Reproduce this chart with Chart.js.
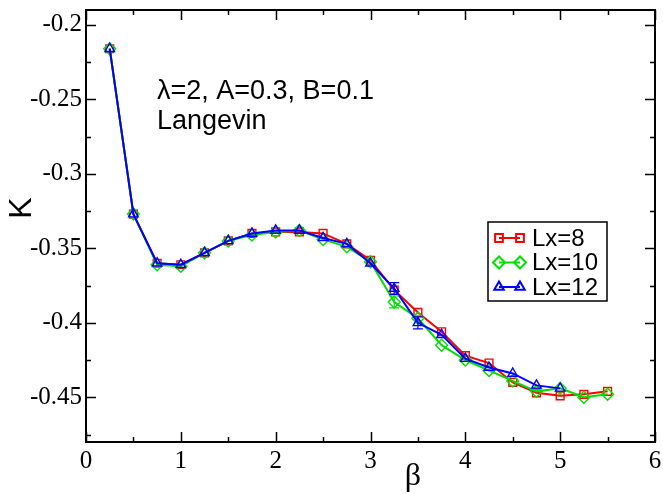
<!DOCTYPE html>
<html>
<head>
<meta charset="utf-8">
<script src="https://cdn.jsdelivr.net/npm/chart.js@4"></script>
<style>
  html, body { margin: 0; padding: 0; background: #fff; }
  #wrap { width: 663px; height: 494px; }
</style>
</head>
<body>
<div id="wrap"><canvas id="chart" width="663" height="494"></canvas></div>
<script>
// beta values
const beta = [0.25, 0.5, 0.75, 1.0, 1.25, 1.5, 1.75, 2.0, 2.25, 2.5, 2.75, 3.0, 3.25, 3.5, 3.75, 4.0, 4.25, 4.5, 4.75, 5.0, 5.25, 5.5];

// K for each system size
const kLx8  = [-0.216, -0.327, -0.360, -0.361, -0.353, -0.345, -0.340, -0.339, -0.339, -0.340, -0.347, -0.358, -0.378, -0.393, -0.406, -0.422, -0.427, -0.440, -0.447, -0.449, -0.448, -0.446];
const kLx10 = [-0.216, -0.327, -0.361, -0.362, -0.353, -0.345, -0.341, -0.339, -0.338, -0.344, -0.349, -0.359, -0.386, -0.397, -0.415, -0.425, -0.432, -0.439, -0.446, -0.444, -0.450, -0.448];
const kLx12 = [-0.216, -0.327, -0.360, -0.361, -0.353, -0.345, -0.340, -0.338, -0.338, -0.343, -0.347, -0.360, -0.377, -0.400, -0.408, -0.424, -0.430, -0.434, -0.442, -0.444];

// error bars (mostly tiny)
const errLx8  = [0.001, 0.001, 0.001, 0.001, 0.001, 0.001, 0.001, 0.001, 0.001, 0.001, 0.001, 0.002, 0.003, 0.002, 0.002, 0.002, 0.002, 0.002, 0.002, 0.002, 0.002, 0.002];
const errLx10 = [0.001, 0.001, 0.001, 0.001, 0.001, 0.001, 0.001, 0.001, 0.001, 0.001, 0.001, 0.002, 0.004, 0.002, 0.002, 0.002, 0.002, 0.002, 0.002, 0.002, 0.002, 0.002];
const errLx12 = [0.001, 0.001, 0.001, 0.001, 0.001, 0.001, 0.001, 0.001, 0.001, 0.001, 0.001, 0.002, 0.004, 0.004, 0.002, 0.002, 0.002, 0.002, 0.002, 0.002];

const xTicks = [0, 1, 2, 3, 4, 5, 6];
const yTicks = [-0.2, -0.25, -0.3, -0.35, -0.4, -0.45];

const serif = "'Liberation Serif', 'DejaVu Serif', serif";
const sans = "'Liberation Sans', Arial, sans-serif";

function toPoints(ys) {
    return ys.map((y, i) => ({ x: beta[i], y: y }));
}

function makeSet(label, ys, errs, color, style, order) {
    return {
        label: label,
        data: toPoints(ys),
        errors: errs,
        borderColor: color,
        backgroundColor: 'rgba(0,0,0,0)',
        borderWidth: 2,
        pointStyle: style,
        pointRadius: style === 'rectRot' ? 6 : 5.5,
        pointBorderWidth: 1.4,
        pointBorderColor: color,
        pointBackgroundColor: 'rgba(0,0,0,0)',
        tension: 0,
        order: order
    };
}

// error bars, inward ticks, labels, legend box
const decorations = {
    id: 'decorations',
    afterDatasetsDraw(chart) {
        const ctx = chart.ctx;
        const xs = chart.scales.x, ys = chart.scales.y;
        chart.data.datasets.forEach(ds => {
            ctx.save();
            ctx.strokeStyle = ds.borderColor;
            ctx.lineWidth = 1.2;
            ds.data.forEach((p, i) => {
                const e = ds.errors[i];
                const px = xs.getPixelForValue(p.x);
                const y1 = ys.getPixelForValue(p.y + e);
                const y2 = ys.getPixelForValue(p.y - e);
                if (y2 - y1 < 11) return;
                ctx.beginPath();
                ctx.moveTo(px, y1); ctx.lineTo(px, y2);
                ctx.moveTo(px - 5, y1); ctx.lineTo(px + 5, y1);
                ctx.moveTo(px - 5, y2); ctx.lineTo(px + 5, y2);
                ctx.stroke();
            });
            ctx.restore();
        });
    },
    afterDraw(chart) {
        const ctx = chart.ctx;
        const a = chart.chartArea;
        const xs = chart.scales.x, ys = chart.scales.y;
        ctx.save();
        ctx.strokeStyle = '#000';
        ctx.lineWidth = 2;
        ctx.strokeRect(a.left, a.top, a.right - a.left, a.bottom - a.top);

        ctx.lineWidth = 1.5;
        ctx.beginPath();
        for (let v = 0; v <= 6.001; v += 0.5) {
            const px = Math.round(xs.getPixelForValue(v)) + 0.5;
            const len = Math.abs(v - Math.round(v)) < 1e-6 ? 10 : 5;
            ctx.moveTo(px, a.bottom); ctx.lineTo(px, a.bottom - len);
            ctx.moveTo(px, a.top); ctx.lineTo(px, a.top + len);
        }
        for (let k = 0; k <= 12; k++) {
            const v = -0.2 - k * 0.025;
            if (v < ys.min) break;
            const py = Math.round(ys.getPixelForValue(v)) + 0.5;
            const len = k % 2 === 0 ? 10 : 5;
            ctx.moveTo(a.left, py); ctx.lineTo(a.left + len, py);
            ctx.moveTo(a.right, py); ctx.lineTo(a.right - len, py);
        }
        ctx.stroke();

        // axis titles
        ctx.fillStyle = '#000';
        ctx.font = '32px ' + sans;
        ctx.textAlign = 'center';
        ctx.textBaseline = 'middle';
        ctx.save();
        ctx.translate(22, 208);
        ctx.rotate(-Math.PI / 2);
        ctx.fillText('K', 0, 0);
        ctx.restore();
        ctx.font = '32px ' + serif;
        ctx.textBaseline = 'alphabetic';
        ctx.fillText('β', 413, 485);

        // annotation
        ctx.textAlign = 'left';
        ctx.font = '27px ' + sans;
        ctx.fillText('λ=2, A=0.3, B=0.1', 157, 99);
        ctx.fillText('Langevin', 157, 129);

        // legend box
        const lx = 488, ly = 222, lw = 119, lh = 79;
        ctx.fillStyle = '#fff';
        ctx.fillRect(lx, ly, lw, lh);
        ctx.strokeStyle = '#000';
        ctx.lineWidth = 1.5;
        ctx.strokeRect(lx, ly, lw, lh);
        chart.data.datasets.forEach((ds, i) => {
            const cy = ly + 16 + i * 24.5;
            ctx.strokeStyle = ds.borderColor;
            ctx.lineWidth = 2;
            ctx.beginPath();
            ctx.moveTo(lx + 11, cy); ctx.lineTo(lx + 32, cy);
            ctx.stroke();
            ctx.fillStyle = 'rgba(0,0,0,0)';
            [lx + 11, lx + 32].forEach(px => {
                Chart.helpers.drawPoint(ctx, {
                    pointStyle: ds.pointStyle,
                    radius: ds.pointRadius,
                    borderWidth: 1.4,
                    rotation: 0
                }, px, cy);
            });
            ctx.fillStyle = '#000';
            ctx.font = '24px ' + sans;
            ctx.textBaseline = 'middle';
            ctx.fillText(ds.label, lx + 44, cy + 1);
        });
        ctx.restore();
    }
};

new Chart(document.getElementById('chart'), {
    type: 'line',
    data: {
        datasets: [
            makeSet('Lx=8', kLx8, errLx8, '#ff0000', 'rect', 2),
            makeSet('Lx=10', kLx10, errLx10, '#00e000', 'rectRot', 1),
            makeSet('Lx=12', kLx12, errLx12, '#0000ff', 'triangle', 0)
        ]
    },
    options: {
        responsive: false,
        animation: false,
        layout: { padding: { left: 0, right: 8, top: 10, bottom: 0 } },
        plugins: {
            legend: { display: false },
            tooltip: { enabled: false }
        },
        scales: {
            x: {
                type: 'linear',
                min: 0,
                max: 6,
                grid: { display: false, drawTicks: false, tickLength: 0 },
                border: { display: false },
                afterFit: s => { s.height = 52; s.paddingLeft = 0; s.paddingRight = 0; },
                afterBuildTicks: s => { s.ticks = xTicks.map(v => ({ value: v })); },
                ticks: {
                    padding: 4,
                    color: '#000',
                    font: { family: serif, size: 25 },
                    maxRotation: 0,
                    callback: v => String(v)
                }
            },
            y: {
                type: 'linear',
                min: -0.48,
                max: -0.19,
                grid: { display: false, drawTicks: false, tickLength: 0 },
                border: { display: false },
                afterFit: s => { s.width = 86; s.paddingTop = 0; s.paddingBottom = 0; },
                afterBuildTicks: s => { s.ticks = yTicks.map(v => ({ value: v })); },
                ticks: {
                    padding: 4,
                    color: '#000',
                    font: { family: serif, size: 25 },
                    callback: v => String(Math.round(v * 1000) / 1000)
                }
            }
        }
    },
    plugins: [decorations]
});
</script>
</body>
</html>
